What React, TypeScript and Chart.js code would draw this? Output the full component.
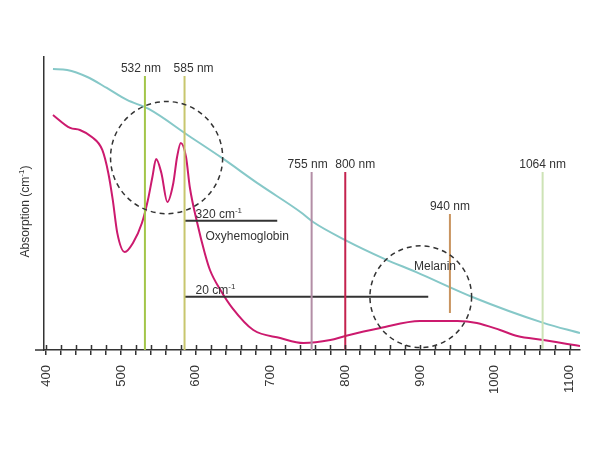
import React, { useEffect, useRef } from 'react';
import { Chart, registerables } from 'chart.js';

Chart.register(...registerables);

// Melanin absorption spectrum (wavelength in nm, absorption in cm^-1)
const melaninNm = [409, 428, 455, 481, 508, 537, 591, 635, 686, 740, 757, 800, 853, 895, 970, 1065, 1114];
const melaninAbs = [81100, 78300, 60600, 40600, 26200, 18900, 7040, 3160, 1180, 440, 305, 158, 79, 49, 19.8, 7.7, 5.3];

// Oxyhemoglobin absorption spectrum
const oxyNm = [409, 432, 445, 461, 475, 483, 489, 495, 505, 516, 528, 536, 542, 547, 554, 562, 570, 575, 580, 587, 592, 602, 612, 619, 633, 649, 677, 713, 744, 780, 800, 847, 900, 950, 976, 1007, 1030, 1065, 1097, 1114];
const oxyAbs = [15170, 9440, 8770, 6790, 4230, 1825, 682, 205, 102, 142, 294, 682, 1578, 3043, 1825, 634, 1268, 3274, 5452, 3274, 1095, 294, 98.6, 53, 25.5, 13.2, 5.93, 4.43, 3.69, 4.12, 4.77, 6.38, 8.24, 8.24, 7.66, 5.93, 4.77, 4.12, 3.56, 3.31];

// Laser wavelengths
const laserNm = [532, 585, 755, 800, 940, 1064];
const laserLabels = ['532 nm', '585 nm', '755 nm', '800 nm', '940 nm', '1064 nm'];
const laserTop = [62900, 62900, 1890, 1890, 409, 1890];
const laserBottom = [2.86, 2.86, 2.86, 2.86, 11, 3.0];
const laserColors = ['#a3c64a', '#c8c66e', '#b38ea6', '#c4224e', '#c99460', '#cde3b6'];
const laserLabelDx = [-4, 9, -4, 10, 0, 0];

// Reference absorption levels
const refLevels = [320, 20];
const refLabels = ['320 cm', '20 cm'];
const refStartNm = [585, 585];
const refEndNm = [709, 911];

// Highlighted regions
const circleNm = [561, 901];
const circleAbs = [3200, 20];
const circleRadiusNm = [75, 68];

// Region names
const regionNames = ['Oxyhemoglobin', 'Melanin'];
const regionNm = [613, 920];
const regionAbs = [177, 59];
const regionAlign: CanvasTextAlign[] = ['left', 'center'];

// Axis
const xMin = 397;
const xMax = 1114;
const yMin = 2.86;
const yMax = 125700;
const xMinorStep = 20;
const xLabelledTicks = [400, 500, 600, 700, 800, 900, 1000, 1100];

const FONT = '"Liberation Sans", Arial, Helvetica, sans-serif';
const INK = '#333333';

// Draws "base" followed by a raised, smaller "sup" and an optional tail.
function drawSupText(
  ctx: CanvasRenderingContext2D,
  base: string,
  sup: string,
  tail: string,
  x: number,
  y: number,
  align: 'left' | 'center',
  size: number
) {
  const supSize = Math.round(size * 0.66);
  ctx.font = `${size}px ${FONT}`;
  const wBase = ctx.measureText(base).width;
  const wTail = ctx.measureText(tail).width;
  ctx.font = `${supSize}px ${FONT}`;
  const wSup = ctx.measureText(sup).width;
  const total = wBase + wSup + wTail;
  const x0 = align === 'center' ? x - total / 2 : x;
  ctx.textAlign = 'left';
  ctx.textBaseline = 'alphabetic';
  ctx.font = `${size}px ${FONT}`;
  ctx.fillText(base, x0, y);
  if (tail) ctx.fillText(tail, x0 + wBase + wSup, y);
  ctx.font = `${supSize}px ${FONT}`;
  ctx.fillText(sup, x0 + wBase, y - size * 0.4);
}

const annotationPlugin = {
  id: 'spectrumAnnotations',
  afterDatasetsDraw(chart: Chart) {
    const { ctx, chartArea } = chart;
    const xs: any = chart.scales.x;
    const ys: any = chart.scales.y;
    ctx.save();

    // upper half of the x-axis tick marks
    ctx.strokeStyle = INK;
    ctx.lineWidth = 1.5;
    ctx.beginPath();
    xs.ticks.forEach((t: any) => {
      const px = Math.round(xs.getPixelForValue(t.value)) + 0.5;
      ctx.moveTo(px, chartArea.bottom - 5);
      ctx.lineTo(px, chartArea.bottom);
    });
    // axis line runs a little past the vertical axis
    ctx.moveTo(chartArea.left - 9, chartArea.bottom);
    ctx.lineTo(chartArea.left, chartArea.bottom);
    ctx.stroke();

    // dashed circles
    ctx.setLineDash([5, 4]);
    ctx.lineWidth = 1.5;
    circleNm.forEach((nm, i) => {
      const cx = xs.getPixelForValue(nm);
      const cy = ys.getPixelForValue(circleAbs[i]);
      const r = xs.getPixelForValue(nm + circleRadiusNm[i]) - cx;
      ctx.beginPath();
      ctx.arc(cx, cy, r, 0, Math.PI * 2);
      ctx.stroke();
    });
    ctx.setLineDash([]);

    ctx.fillStyle = INK;

    // laser labels
    ctx.font = `12px ${FONT}`;
    ctx.textAlign = 'center';
    ctx.textBaseline = 'alphabetic';
    laserNm.forEach((nm, i) => {
      const px = xs.getPixelForValue(nm) + laserLabelDx[i];
      const py = ys.getPixelForValue(laserTop[i]) - 4;
      ctx.fillText(laserLabels[i], px, py);
    });

    // reference level labels
    refLevels.forEach((lvl, i) => {
      const px = xs.getPixelForValue(refStartNm[i]) + 11;
      const py = ys.getPixelForValue(lvl) - 3;
      drawSupText(ctx, refLabels[i], '-1', '', px, py, 'left', 12);
    });

    // region names
    ctx.font = `12px ${FONT}`;
    ctx.textBaseline = 'middle';
    regionNames.forEach((name, i) => {
      ctx.textAlign = regionAlign[i];
      ctx.fillText(name, xs.getPixelForValue(regionNm[i]), ys.getPixelForValue(regionAbs[i]));
    });

    // vertical axis title
    ctx.save();
    ctx.translate(29, (chartArea.top + chartArea.bottom) / 2 + 8);
    ctx.rotate(-Math.PI / 2);
    drawSupText(ctx, 'Absorption (cm', '-1', ')', 0, 0, 'center', 12);
    ctx.restore();

    ctx.restore();
  },
};

export default function App() {
  const canvasRef = useRef<HTMLCanvasElement | null>(null);

  useEffect(() => {
    document.body.style.margin = '0';
    const canvas = canvasRef.current;
    if (!canvas) return;

    const pair = (a: number[], b: number[]) => a.map((x, i) => ({ x, y: b[i] }));

    const laserSets = laserNm.map((nm, i) => ({
      label: laserLabels[i],
      data: [
        { x: nm, y: laserTop[i] },
        { x: nm, y: laserBottom[i] },
      ],
      borderColor: laserColors[i],
      borderWidth: 2,
      pointRadius: 0,
      tension: 0,
    }));

    const refSets = refLevels.map((lvl, i) => ({
      label: refLabels[i],
      data: [
        { x: refStartNm[i], y: lvl },
        { x: refEndNm[i], y: lvl },
      ],
      borderColor: INK,
      borderWidth: 2,
      pointRadius: 0,
      tension: 0,
    }));

    const chart = new Chart(canvas, {
      type: 'line',
      data: {
        datasets: [
          ...laserSets,
          ...refSets,
          {
            label: 'Melanin',
            data: pair(melaninNm, melaninAbs),
            borderColor: '#86c8c8',
            borderWidth: 2,
            pointRadius: 0,
            cubicInterpolationMode: 'monotone',
          },
          {
            label: 'Oxyhemoglobin',
            data: pair(oxyNm, oxyAbs),
            borderColor: '#cc1a6e',
            borderWidth: 2,
            pointRadius: 0,
            cubicInterpolationMode: 'monotone',
          },
        ] as any,
      },
      options: {
        responsive: false,
        animation: false,
        devicePixelRatio: 1,
        layout: { padding: { top: 57, right: 20, left: 0, bottom: 0 } },
        plugins: {
          legend: { display: false },
          tooltip: { enabled: false },
        },
        scales: {
          x: {
            type: 'linear',
            min: xMin,
            max: xMax,
            afterFit: (s: any) => {
              s.height = 99;
            },
            border: { display: true, color: INK, width: 1.5 },
            grid: {
              drawOnChartArea: false,
              drawTicks: true,
              tickLength: 5,
              color: INK,
              lineWidth: 1.5,
            },
            ticks: {
              stepSize: xMinorStep,
              includeBounds: false,
              autoSkip: false,
              minRotation: 90,
              maxRotation: 90,
              padding: 10,
              color: INK,
              font: { family: FONT, size: 13 },
              callback: (v: any) => (xLabelledTicks.includes(Number(v)) ? String(v) : ''),
            },
          },
          y: {
            type: 'logarithmic',
            min: yMin,
            max: yMax,
            afterFit: (s: any) => {
              s.width = 44;
            },
            border: { display: true, color: INK, width: 1.5 },
            grid: { display: false, drawTicks: false },
            ticks: { display: false },
          },
        },
      },
      plugins: [annotationPlugin],
    });

    return () => chart.destroy();
  }, []);

  return (
    <div style={{ width: 600, height: 449, background: '#fff' }}>
      <canvas ref={canvasRef} width={600} height={449} />
    </div>
  );
}
